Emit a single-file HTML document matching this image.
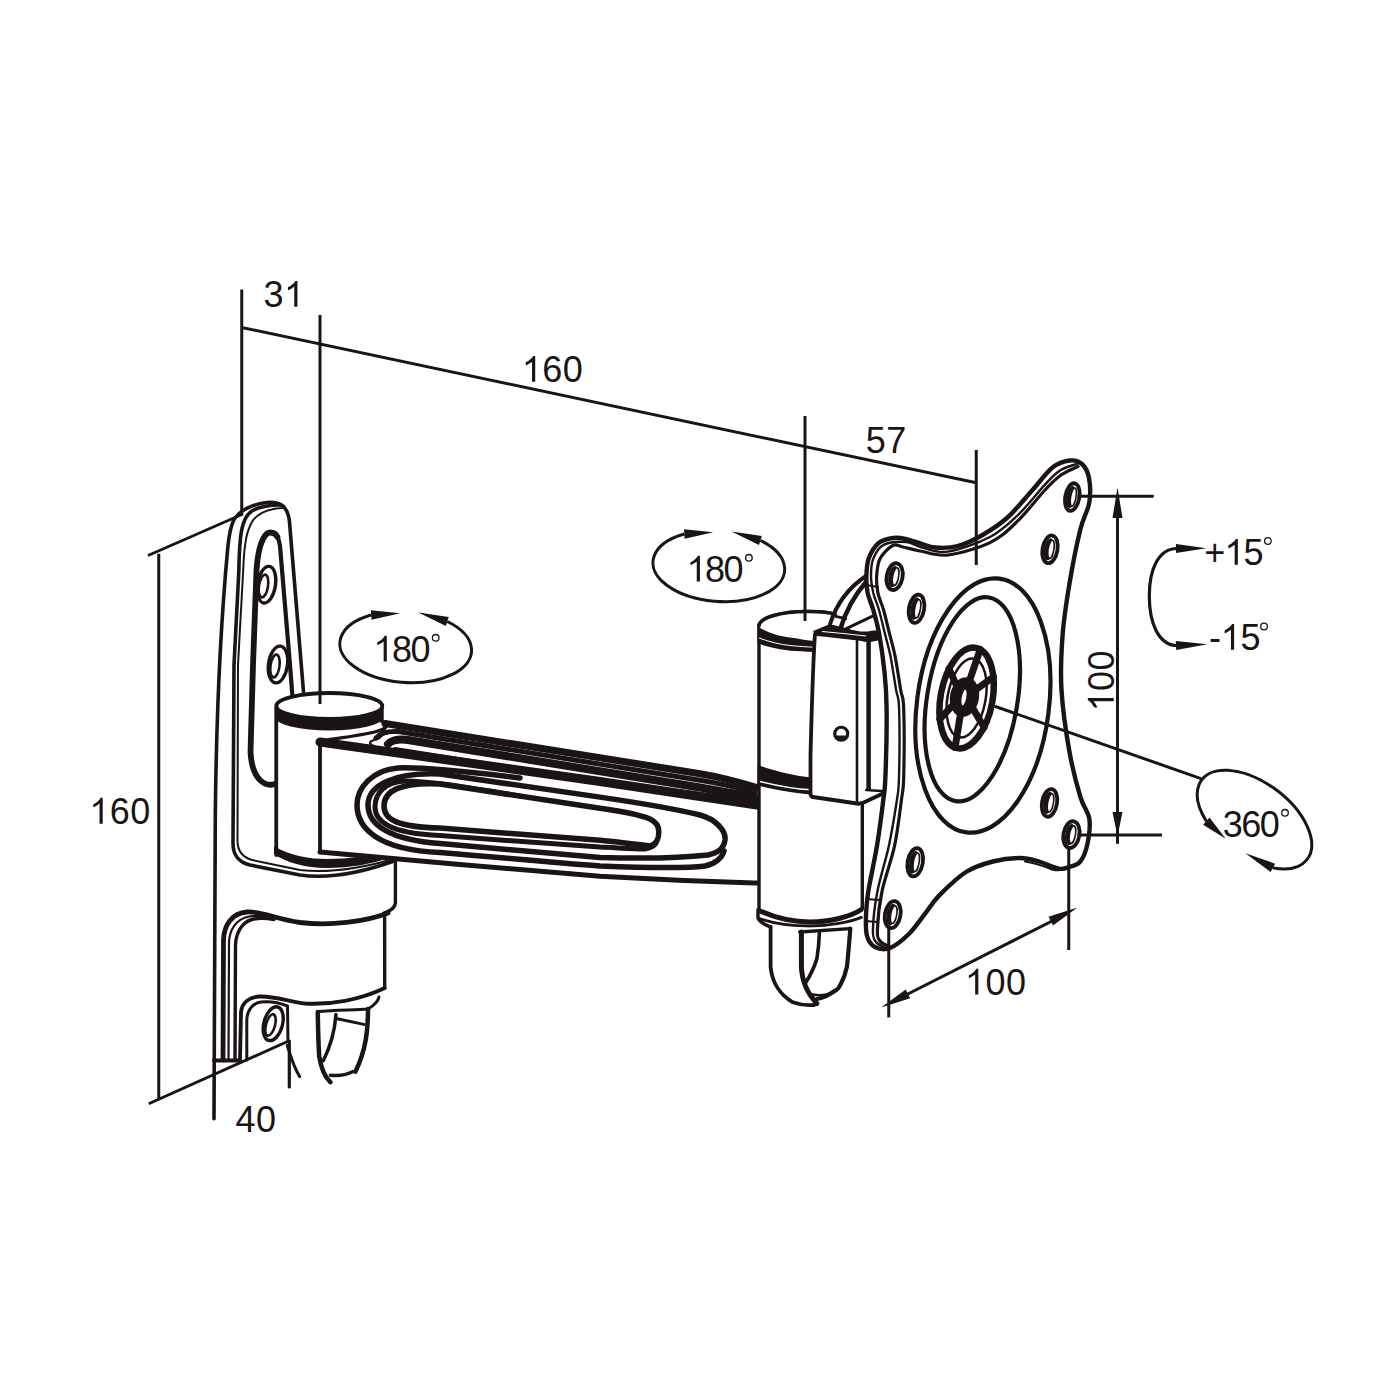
<!DOCTYPE html>
<html><head><meta charset="utf-8"><style>html,body{margin:0;padding:0;background:#fff}svg{display:block}</style></head>
<body><svg width="1400" height="1400" viewBox="0 0 1400 1400" style="font-family:'Liberation Sans',sans-serif">
<rect width="1400" height="1400" fill="#fff"/>
<path d="M214 1118.75 L215.3 815 C216.5 700 222 610 227.7 548.6 C229 535 231 524 235 518 C240 511 252 504 266.8 502.5 C274 502 279 503 283 506 C287 510 289 516 289.5 522 L303.75 695" stroke="#1a1414" stroke-width="3.6" fill="none" stroke-linecap="round" stroke-linejoin="round" />
<path d="M281 505 C272 504.5 258 507 251.8 511.1 C246 515 242 524 240.5 537.9 C239.5 548 239 560 238.9 570 L234 665 L233 843 C233 855 238 862 250 865 L300 875 C325 878.5 355 875 394 861" stroke="#1a1414" stroke-width="3.6" fill="none" stroke-linecap="round" stroke-linejoin="round" />
<path d="M283 508 C275 508 268 510 262.5 512.7 C256 516 252 521 250.7 524.5 C247 532 246 538 245.4 543.2 C244 552 243.5 562 243.2 570 L238 665 L237.5 841 C237.5 851 242 857 252 860 L300 870 C325 873 355 870 394 859" stroke="#1a1414" stroke-width="2" fill="none" stroke-linecap="round" stroke-linejoin="round" />
<path d="M275 784 C266 787 252 781 250.5 752 L253 665 L256.5 570 C257.5 555 260 545 263 539 C265 535 268 532.5 270.5 532.5 C274 532.5 276 534 277.5 537" stroke="#1a1414" stroke-width="5.8" fill="none" stroke-linecap="round" stroke-linejoin="round" />
<path d="M270 532 C276 532 279 539 280 546 L290 665 L292.5 697" stroke="#1a1414" stroke-width="4.2" fill="none" stroke-linecap="round" stroke-linejoin="round" />
<ellipse cx="266.5" cy="584.7" rx="9" ry="18.5" transform="rotate(9 266.5 584.7)" stroke="#1a1414" stroke-width="3.4" fill="none"/>
<ellipse cx="263.5" cy="586" rx="4.5" ry="11.5" transform="rotate(9 263.5 586)" stroke="#1a1414" stroke-width="2.6" fill="none"/>
<ellipse cx="278" cy="664.5" rx="9.5" ry="18.5" transform="rotate(8 278 664.5)" stroke="#1a1414" stroke-width="3.4" fill="none"/>
<ellipse cx="275" cy="666" rx="4.5" ry="11.5" transform="rotate(8 275 666)" stroke="#1a1414" stroke-width="2.6" fill="none"/>
<path d="M223 1060 L223.5 940 C224 925 232 913 247 912 C262 911 275 919 300 922.5 C330 926 365 922 388 913" stroke="#1a1414" stroke-width="4.8" fill="none" stroke-linecap="round" stroke-linejoin="round" />
<path d="M228.5 1060 L229 942 C229.5 930 236 919 249 916.5 C255 915.5 262 915.5 270 917" stroke="#1a1414" stroke-width="2.2" fill="none" stroke-linecap="round" stroke-linejoin="round" />
<path d="M235 1060 L235.5 945 C236 933 242 922 252 919.5 C258 918 265 918 274 919.5" stroke="#1a1414" stroke-width="3.4" fill="none" stroke-linecap="round" stroke-linejoin="round" />
<path d="M214 1060.6 L240 1060.6" stroke="#1a1414" stroke-width="4" fill="none" stroke-linecap="round" stroke-linejoin="round" />
<path d="M240 1060 L241 1012 C242 1002 250 997 260 996.5 C275 996 290 1002 305 1003.5 C330 1005 360 1000 384.7 988" stroke="#1a1414" stroke-width="3.8" fill="none" stroke-linecap="round" stroke-linejoin="round" />
<path d="M246.8 1060 L246.8 1020 C247 1010 253 1003 261 1002 C270 1001 280 1003 287.5 1006 L288 1041" stroke="#1a1414" stroke-width="3" fill="none" stroke-linecap="round" stroke-linejoin="round" />
<ellipse cx="273.2" cy="1023.7" rx="9.3" ry="17.3" transform="rotate(15 273.2 1023.7)" stroke="#1a1414" stroke-width="3.4" fill="none"/>
<ellipse cx="270.5" cy="1025" rx="4.5" ry="11" transform="rotate(15 270.5 1025)" stroke="#1a1414" stroke-width="2.6" fill="none"/>
<path d="M289.3 1041 V1087" stroke="#1a1414" stroke-width="3.2" fill="none" stroke-linecap="round" stroke-linejoin="round" />
<path d="M287.2 1045.3 C291 1058 294 1068 299.7 1076.6" stroke="#1a1414" stroke-width="3" fill="none" stroke-linecap="round" stroke-linejoin="round" />
<path d="M317.8 1012 C318 1030 318.5 1045 319.2 1056.4 C321 1068 325 1077 330.4 1082.2" stroke="#1a1414" stroke-width="4.5" fill="none" stroke-linecap="round" stroke-linejoin="round" />
<path d="M368 1009 C368 1030 366 1050 355.4 1071.7" stroke="#1a1414" stroke-width="4.5" fill="none" stroke-linecap="round" stroke-linejoin="round" />
<path d="M330.4 1075.2 C338 1076 346 1075 352.6 1071.7" stroke="#1a1414" stroke-width="3.5" fill="none" stroke-linecap="round" stroke-linejoin="round" />
<path d="M335.9 1014.6 C335 1030 331 1045 323.4 1060.6" stroke="#1a1414" stroke-width="3.5" fill="none" stroke-linecap="round" stroke-linejoin="round" />
<path d="M337.3 1018.8 L363.8 1024.4" stroke="#1a1414" stroke-width="3" fill="none" stroke-linecap="round" stroke-linejoin="round" />
<path d="M317.8 1011.5 C335 1010 355 1010 368 1009 C373 1006 378 1002 379 997" stroke="#1a1414" stroke-width="3" fill="none" stroke-linecap="round" stroke-linejoin="round" />
<path d="M384.6 914 L384.7 988" stroke="#1a1414" stroke-width="3.4" fill="none" stroke-linecap="round" stroke-linejoin="round" />
<path d="M395.4 860 L395.4 903 C395 908 390 911 384 913" stroke="#1a1414" stroke-width="3.4" fill="none" stroke-linecap="round" stroke-linejoin="round" />
<rect x="276.25" y="706" width="106" height="146" fill="#fff"/>
<path d="M276.25 708 V855" stroke="#1a1414" stroke-width="3.8" fill="none" stroke-linecap="round" stroke-linejoin="round" />
<path d="M382 708 V724" stroke="#1a1414" stroke-width="3.4" fill="none" stroke-linecap="round" stroke-linejoin="round" />
<ellipse cx="329.3" cy="706" rx="53" ry="13" transform="rotate(0 329.3 706)" stroke="#1a1414" stroke-width="3.8" fill="#fff"/>
<path d="M276.25 706.5 A53 13 0 0 0 382.5 706.5 L382.5 718 A53 12.5 0 0 1 276.25 718 Z" fill="#1a1414"/>
<path d="M274 846 C290 856 310 859 327 859 C350 859 370 856 384 852 L392 857 C372 864 350 868 327 868 C305 868 285 862 274 854 Z" fill="#1a1414"/>
<path d="M320 741.5 L757.5 804 L757.5 883 L600 876.3 L320 852 Z" fill="#fff"/>
<path d="M320 742 L385 721.5 L757.5 786 L757.5 805 Z" fill="#fff"/>
<path d="M320 743 V851" stroke="#1a1414" stroke-width="3.8" fill="none" stroke-linecap="round" stroke-linejoin="round" />
<path d="M320 852 C400 859 520 870 600 876.3 C680 881 720 882 757.5 883" stroke="#1a1414" stroke-width="5" fill="none" stroke-linecap="round" stroke-linejoin="round" />
<path d="M321 741 C345 737 365 735 378 731 C385 729 389 726 386 722" stroke="#1a1414" stroke-width="3.2" fill="none" stroke-linecap="round" stroke-linejoin="round" />
<path d="M383.6 724.6 C386 728 384 735 379 738.3 C374 740 370 741 370 742.5 C370 744 372 745.5 374.4 746.3" stroke="#1a1414" stroke-width="2.4" fill="none" stroke-linecap="round" stroke-linejoin="round" />
<path d="M385 723.5 L700.0 773.7 C720 777 740 782.5 757 787.5" stroke="#1a1414" stroke-width="7" fill="none" stroke-linecap="round" stroke-linejoin="round" />
<path d="M376 738 C380 733 388 731 398 731.5 L700.0 780.3 C720 783.5 740 788 755 792.5" stroke="#1a1414" stroke-width="5" fill="none" stroke-linecap="round" stroke-linejoin="round" />
<path d="M388 744 C392 740 400 739 408 740 L700.0 787.5 C720 791 740 794.5 755 797.5" stroke="#1a1414" stroke-width="8" fill="none" stroke-linecap="round" stroke-linejoin="round" />
<path d="M395 749 L600.0 781.3 L755 801" stroke="#1a1414" stroke-width="4" fill="none" stroke-linecap="round" stroke-linejoin="round" />
<path d="M320 742 L600 781.5 C680 793 720 799 757 805" stroke="#1a1414" stroke-width="9" fill="none" stroke-linecap="round" stroke-linejoin="round" />
<path d="M520 778 C470 772 420 767 398 768 C372 770 357 788 357 805 C357 828 378 850 440 852.4 C520 859.2 570 864 600 866 C650 868 690 868 705 866 C715 864 722 858 724 851" stroke="#1a1414" stroke-width="5.5" fill="none" stroke-linecap="round" stroke-linejoin="round" />
<path d="M600 797.1 C640 803 680 810 700 815 C715 819 726 830 725 840 C724 848 718 853 708 855 C690 857 650 859 600 857.4 C570 855 520 850.5 440 843.6 C390 840 368 825 368 805 C368 785 395 772 440 774 L600 797.1 Z" stroke="#1a1414" stroke-width="5.5" fill="none" stroke-linecap="round" stroke-linejoin="round" />
<path d="M520 796 C470 788 430 781 405 781 C385 782 375 793 375 807 C375 822 390 833 440 835.6 C520 841.5 570 845 600 847.1 C620 848 635 849 645 849 C652 848 656 845 657 841" stroke="#1a1414" stroke-width="5" fill="none" stroke-linecap="round" stroke-linejoin="round" />
<path d="M600 808.3 C620 811 640 815 650 819 C656 822 659 827 658.75 832 C659 838 656 844 650 846 C640 845 620 842 600 840.3 C570 838 520 834 440 828.1 C398 827 384 820 384 806 C384 791 400 782 440 784 L600 808.3 Z" stroke="#1a1414" stroke-width="5.5" fill="none" stroke-linecap="round" stroke-linejoin="round" />
<rect x="758.75" y="626" width="105" height="300" fill="#fff"/>
<path d="M759 626 V910" stroke="#1a1414" stroke-width="3.4" fill="none" stroke-linecap="round" stroke-linejoin="round" />
<path d="M862.3 803 V909" stroke="#1a1414" stroke-width="3.4" fill="none" stroke-linecap="round" stroke-linejoin="round" />
<path d="M759 626 C759 618 780 611.5 808 611.5 C822 611.5 830 612.5 835 614.5" stroke="#1a1414" stroke-width="3.6" fill="#fff"/>
<path d="M759 626 C759 618 780 611.5 808 611.5 C840 611.5 857 618 857 626 C857 634 840 640 808 640 C780 640 759 634 759 626 Z" fill="#fff"/>
<path d="M759 626 C759 618 780 611.5 808 611.5 C822 611.5 830 612.5 835 614.5" stroke="#1a1414" stroke-width="3.6" fill="none" stroke-linecap="round" stroke-linejoin="round" />
<path d="M757.5 626 C765 632 778 636 790 637.5 C800 639 808 640.5 815 641 L815 652 C805 651.5 797 651 790 650.7 C775 649 765 646.5 757.5 643 Z" fill="#1a1414"/>
<path d="M759 638 C770 642 780 644.5 790 645.5 C800 646.5 808 647 815 647.2" stroke="#fff" stroke-width="1" fill="none"/>
<path d="M757.5 765 C775 771 795 776 811 777.4 L811 794.5 C795 793.5 775 790 757.5 785.5 Z" fill="#1a1414"/>
<path d="M760 781.5 C778 786 795 789 811 789.8" stroke="#fff" stroke-width="1.4" fill="none"/>
<path d="M758 910 C775 918 795 922 810 922 C830 922 850 917 862.3 909" stroke="#1a1414" stroke-width="5" fill="none"/>
<path d="M758.6 918.3 C775 924 795 926 810 926 C830 926 850 922 861.4 917.4" stroke="#1a1414" stroke-width="2.8" fill="none" stroke-linecap="round" stroke-linejoin="round" />
<path d="M758 909.7 L758 918.3 C760 922 765 925 770.6 926.9" stroke="#1a1414" stroke-width="3.4" fill="none" stroke-linecap="round" stroke-linejoin="round" />
<path d="M770.6 927 L770.6 967 C772 985 785 1000 814 1005 C830 1000 845 980 847 967 L850.3 928.6 Z" fill="#fff"/>
<path d="M770.6 927 V967 C772 982 780 995 792.9 1002.3 C800 1005 808 1005.5 814.3 1005" stroke="#1a1414" stroke-width="3.8" fill="none" stroke-linecap="round" stroke-linejoin="round" />
<path d="M850.3 928.6 C849 945 848 958 846.9 967 C844 980 838 990 835.7 990.3 C828 996 822 998 816.9 999" stroke="#1a1414" stroke-width="4.2" fill="none" stroke-linecap="round" stroke-linejoin="round" />
<path d="M801.4 932 V967 C802 980 806 992 816.9 1003.5" stroke="#1a1414" stroke-width="5" fill="none" stroke-linecap="round" stroke-linejoin="round" />
<path d="M799.7 932 L850.3 928.6" stroke="#1a1414" stroke-width="3.4" fill="none" stroke-linecap="round" stroke-linejoin="round" />
<path d="M819.4 932.9 C819 945 818 952 816.9 958.6 C814 968 810 976 805.7 982.6" stroke="#1a1414" stroke-width="3.6" fill="none" stroke-linecap="round" stroke-linejoin="round" />
<path d="M810 994 C818 996 828 995 836 991" stroke="#1a1414" stroke-width="2.4" fill="none" stroke-linecap="round" stroke-linejoin="round" />
<path d="M815 632 L870 638 L885 792 L858 804 L811 795 Z" fill="#fff"/>
<path d="M815 634 C813 660 812 700 810.5 755 L810.5 794.6 C811 796 812 797 813 797 L858.75 803.75 L863.75 802.5 L885 792.5" stroke="#1a1414" stroke-width="3.8" fill="none" stroke-linecap="round" stroke-linejoin="round" />
<path d="M813 631 C820 628 826 626 830 624.3 L846 628 C855 631 862 632 868 631.5 C874 630 878 630 880 632 L880 640 C872 642 866 643 861.4 641 C845 639 830 637 817 636 Z" fill="#1a1414"/>
<path d="M822 631.5 C835 632.5 850 634 866 636" stroke="#fff" stroke-width="1.2" fill="none"/>
<path d="M857 641 V802.5" stroke="#1a1414" stroke-width="2.6" fill="none" stroke-linecap="round" stroke-linejoin="round" />
<path d="M868.6 641 V788.75" stroke="#1a1414" stroke-width="4.5" fill="none" stroke-linecap="round" stroke-linejoin="round" />
<path d="M866.25 790 L885 791.25" stroke="#1a1414" stroke-width="2.6" fill="none" stroke-linecap="round" stroke-linejoin="round" />
<ellipse cx="841.25" cy="733.75" rx="6.5" ry="6.5" transform="rotate(0 841.25 733.75)" stroke="#1a1414" stroke-width="3.2" fill="none"/>
<path d="M836 735.5 C838 741 844 741 846.5 735.5 Z" fill="#1a1414"/>
<path d="M830 624.3 C836 605 848 588 866 576" stroke="#1a1414" stroke-width="4" fill="none" stroke-linecap="round" stroke-linejoin="round" />
<path d="M840 630 C845 613 853 597 866 582" stroke="#1a1414" stroke-width="4.5" fill="none" stroke-linecap="round" stroke-linejoin="round" />
<path d="M835.7 616.4 L845.7 618.6" stroke="#1a1414" stroke-width="3" fill="none" stroke-linecap="round" stroke-linejoin="round" />
<path d="M846.4 628.6 L872 616.4" stroke="#1a1414" stroke-width="3" fill="none" stroke-linecap="round" stroke-linejoin="round" />
<path d="M1069.6 460.5 C1074.5 459.9 1078.8 461.1 1082.0 464.0 C1085.2 466.9 1087.8 471.6 1089.0 478.0 C1090.2 484.4 1090.7 493.9 1089.3 502.5 C1087.9 511.1 1083.7 515.9 1080.4 529.3 C1077.1 542.7 1072.6 565.0 1069.6 582.9 C1066.6 600.8 1063.8 618.5 1062.5 636.4 C1061.2 654.2 1060.3 670.6 1061.5 690.0 C1062.7 709.4 1066.4 734.7 1069.6 752.5 C1072.8 770.3 1077.1 786.0 1080.4 797.0 C1083.7 808.0 1088.1 810.8 1089.3 818.6 C1090.5 826.4 1089.0 836.5 1087.5 843.6 C1086.0 850.7 1083.4 857.5 1080.4 861.4 C1077.4 865.3 1073.2 865.6 1069.6 866.8 C1066.0 868.0 1064.2 869.6 1058.9 868.6 C1053.6 867.6 1044.0 862.8 1037.5 861.0 C1031.0 859.2 1027.0 857.9 1019.6 858.0 C1012.2 858.1 1001.8 859.2 992.9 861.5 C984.0 863.8 974.9 866.4 966.0 872.0 C957.1 877.6 946.0 888.6 939.3 895.4 C932.6 902.2 930.8 906.4 925.7 912.9 C920.6 919.4 914.6 928.4 908.6 934.3 C902.6 940.1 895.6 945.9 890.0 948.0 C884.4 950.1 878.8 949.0 875.0 947.0 C871.2 945.0 868.5 941.3 867.0 936.0 C865.5 930.7 865.8 922.4 866.0 915.0 C866.2 907.6 866.5 902.9 868.3 891.4 C870.1 879.9 874.5 860.9 877.0 845.7 C879.5 830.5 881.9 811.5 883.3 800.0 C884.7 788.5 884.8 792.2 885.4 777.0 C886.0 761.8 886.8 726.1 886.6 708.6 C886.5 691.1 885.8 684.6 884.5 672.0 C883.2 659.4 880.9 643.2 879.0 632.9 C877.1 622.6 875.2 616.7 873.3 610.0 C871.4 603.3 868.8 598.6 867.6 592.9 C866.5 587.2 866.2 581.4 866.4 575.7 C866.6 570.0 866.8 563.9 868.7 558.6 C870.6 553.3 874.5 547.0 877.9 543.7 C881.3 540.4 885.5 539.6 889.3 538.6 C893.1 537.6 895.9 537.3 900.7 538.0 C905.5 538.7 912.2 541.0 917.9 542.6 C923.6 544.2 928.4 546.9 935.0 547.5 C941.6 548.1 949.6 548.3 957.5 546.2 C965.4 544.2 974.2 539.8 982.5 535.0 C990.8 530.2 999.2 525.0 1007.5 517.5 C1015.8 510.0 1025.0 498.3 1032.5 490.0 C1040.0 481.7 1046.3 472.4 1052.5 467.5 C1058.7 462.6 1064.7 461.1 1069.6 460.5 Z" stroke="#1a1414" stroke-width="4.4" fill="#fff" stroke-linecap="round" stroke-linejoin="round" />
<path d="M1078.0 463.5 C1075.0 464.7 1065.5 467.0 1060.0 470.5 C1054.5 474.0 1052.2 477.0 1045.0 484.6 C1037.8 492.2 1026.2 507.3 1017.0 516.0 C1007.8 524.7 1001.5 531.1 990.0 537.0 C978.5 542.9 959.3 549.9 948.0 551.6 C936.7 553.4 928.9 549.1 922.0 547.5 C915.1 545.9 912.8 542.4 906.4 542.0 C900.0 541.6 889.1 542.1 883.6 544.9 C878.1 547.7 875.4 553.5 873.3 558.6 C871.2 563.7 871.0 570.0 871.0 575.7 C871.0 581.4 872.0 587.2 873.3 592.9 C874.6 598.6 877.1 603.3 879.0 610.0 C880.9 616.7 882.8 625.3 884.7 632.9 C886.6 640.5 888.5 646.2 890.4 655.7 C892.3 665.2 894.6 681.2 896.1 690.0 C897.6 698.8 898.6 694.1 899.1 708.6 C899.6 723.1 899.4 761.8 899.0 777.0 C898.6 792.2 898.6 788.5 896.9 800.0 C895.2 811.5 892.1 830.5 888.9 845.7 C885.6 860.9 880.1 877.4 877.4 891.4 C874.7 905.4 873.1 921.6 872.9 930.0 C872.7 938.4 874.1 939.2 876.0 942.0 C877.9 944.8 882.7 946.2 884.0 947.0" stroke="#1a1414" stroke-width="2.4" fill="none" stroke-linecap="round" stroke-linejoin="round" />
<path d="M1078.0 466.5 C1075.2 467.9 1066.5 471.1 1061.0 475.0 C1055.5 478.9 1052.3 482.2 1045.0 490.0 C1037.7 497.8 1026.2 512.9 1017.0 521.7 C1007.8 530.5 1001.5 537.1 990.0 542.6 C978.5 548.1 959.7 553.6 948.0 555.0 C936.3 556.4 927.5 552.3 920.0 551.0 C912.5 549.7 907.5 547.9 903.0 547.0 C898.5 546.1 896.5 543.6 892.7 545.5 C888.9 547.4 882.8 553.6 880.1 558.6 C877.4 563.6 877.1 570.0 876.7 575.7 C876.3 581.4 876.8 587.2 877.9 592.9 C879.0 598.6 881.7 603.3 883.6 610.0 C885.5 616.7 887.4 625.3 889.3 632.9 C891.2 640.5 893.1 646.2 895.0 655.7 C896.9 665.2 899.2 681.2 900.7 690.0 C902.2 698.8 903.2 694.1 903.7 708.6 C904.2 723.1 904.1 761.8 903.7 777.0 C903.3 792.2 902.9 788.5 901.4 800.0 C899.9 811.5 897.8 830.5 894.6 845.7 C891.4 860.9 884.9 877.4 882.0 891.4 C879.1 905.4 877.7 921.7 877.4 930.0 C877.1 938.3 878.2 938.3 880.0 941.0 C881.8 943.7 886.7 945.2 888.0 946.0" stroke="#1a1414" stroke-width="3.2" fill="none" stroke-linecap="round" stroke-linejoin="round" />
<path d="M866 585 L878 587" stroke="#1a1414" stroke-width="2.2" fill="none" stroke-linecap="round" stroke-linejoin="round" />
<path d="M866 899 L880 900" stroke="#1a1414" stroke-width="2.2" fill="none" stroke-linecap="round" stroke-linejoin="round" />
<path d="M865 921 L877 922" stroke="#1a1414" stroke-width="2.2" fill="none" stroke-linecap="round" stroke-linejoin="round" />
<ellipse cx="982.9" cy="705.5" rx="66" ry="128" transform="rotate(7.4 982.9 705.5)" stroke="#1a1414" stroke-width="4.2" fill="none"/>
<ellipse cx="972.3" cy="699.3" rx="45.2" ry="103.2" transform="rotate(9.3 972.3 699.3)" stroke="#1a1414" stroke-width="4.2" fill="none"/>
<ellipse cx="966.6" cy="698" rx="26" ry="51" transform="rotate(10.5 966.6 698)" stroke="#1a1414" stroke-width="6.5" fill="#fff"/>
<path d="M969.1 681.8 L980.2 649.4" stroke="#1a1414" stroke-width="7" fill="none" stroke-linecap="round" stroke-linejoin="round" />
<path d="M974.5 690.7 L993.4 677.0" stroke="#1a1414" stroke-width="7" fill="none" stroke-linecap="round" stroke-linejoin="round" />
<path d="M971.6 706.4 L984.1 727.2" stroke="#1a1414" stroke-width="7" fill="none" stroke-linecap="round" stroke-linejoin="round" />
<path d="M960.7 712.5 L955.1 747.5" stroke="#1a1414" stroke-width="7" fill="none" stroke-linecap="round" stroke-linejoin="round" />
<path d="M954.5 703.3 L939.8 719.0" stroke="#1a1414" stroke-width="7" fill="none" stroke-linecap="round" stroke-linejoin="round" />
<path d="M957.4 687.6 L949.1 668.8" stroke="#1a1414" stroke-width="7" fill="none" stroke-linecap="round" stroke-linejoin="round" />
<ellipse cx="964.5" cy="697" rx="14.5" ry="20" transform="rotate(10.5 964.5 697)" fill="#1a1414"/>
<ellipse cx="964" cy="697.5" rx="2.2" ry="8" transform="rotate(10.5 964 697.5)" fill="#fff"/>
<ellipse cx="966.6" cy="698" rx="19" ry="40" transform="rotate(10.5 966.6 698)" stroke="#1a1414" stroke-width="2.5" fill="none"/>
<ellipse cx="1072.3" cy="497.1" rx="7" ry="14" transform="rotate(10 1072.3 497.1)" stroke="#1a1414" stroke-width="3.8" fill="#fff"/>
<ellipse cx="1071.1" cy="497.1" rx="4.3" ry="11.2" transform="rotate(10 1071.1 497.1)" stroke="#1a1414" stroke-width="0" fill="#1a1414"/>
<ellipse cx="1073.3" cy="497.1" rx="2.7" ry="9.2" transform="rotate(10 1073.3 497.1)" stroke="#1a1414" stroke-width="1.6" fill="#fff"/>
<ellipse cx="1050" cy="549.3" rx="7.5" ry="14" transform="rotate(10 1050 549.3)" stroke="#1a1414" stroke-width="3.8" fill="#fff"/>
<ellipse cx="1048.8" cy="549.3" rx="4.7" ry="11.2" transform="rotate(10 1048.8 549.3)" stroke="#1a1414" stroke-width="0" fill="#1a1414"/>
<ellipse cx="1051.0" cy="549.3" rx="2.9" ry="9.2" transform="rotate(10 1051.0 549.3)" stroke="#1a1414" stroke-width="1.6" fill="#fff"/>
<ellipse cx="894.6" cy="576.6" rx="8" ry="13.5" transform="rotate(10 894.6 576.6)" stroke="#1a1414" stroke-width="3.8" fill="#fff"/>
<ellipse cx="893.4" cy="576.6" rx="5.0" ry="10.8" transform="rotate(10 893.4 576.6)" stroke="#1a1414" stroke-width="0" fill="#1a1414"/>
<ellipse cx="895.6" cy="576.6" rx="3.0" ry="8.9" transform="rotate(10 895.6 576.6)" stroke="#1a1414" stroke-width="1.6" fill="#fff"/>
<ellipse cx="916.5" cy="608.75" rx="7.6" ry="14.3" transform="rotate(10 916.5 608.75)" stroke="#1a1414" stroke-width="3.8" fill="#fff"/>
<ellipse cx="915.3" cy="608.75" rx="4.7" ry="11.4" transform="rotate(10 915.3 608.75)" stroke="#1a1414" stroke-width="0" fill="#1a1414"/>
<ellipse cx="917.5" cy="608.75" rx="2.9" ry="9.4" transform="rotate(10 917.5 608.75)" stroke="#1a1414" stroke-width="1.6" fill="#fff"/>
<ellipse cx="1049.5" cy="802.9" rx="7.5" ry="14" transform="rotate(10 1049.5 802.9)" stroke="#1a1414" stroke-width="3.8" fill="#fff"/>
<ellipse cx="1048.3" cy="802.9" rx="4.7" ry="11.2" transform="rotate(10 1048.3 802.9)" stroke="#1a1414" stroke-width="0" fill="#1a1414"/>
<ellipse cx="1050.5" cy="802.9" rx="2.9" ry="9.2" transform="rotate(10 1050.5 802.9)" stroke="#1a1414" stroke-width="1.6" fill="#fff"/>
<ellipse cx="1071.4" cy="834.6" rx="8" ry="13.5" transform="rotate(10 1071.4 834.6)" stroke="#1a1414" stroke-width="3.8" fill="#fff"/>
<ellipse cx="1070.2" cy="834.6" rx="5.0" ry="10.8" transform="rotate(10 1070.2 834.6)" stroke="#1a1414" stroke-width="0" fill="#1a1414"/>
<ellipse cx="1072.4" cy="834.6" rx="3.0" ry="8.9" transform="rotate(10 1072.4 834.6)" stroke="#1a1414" stroke-width="1.6" fill="#fff"/>
<ellipse cx="915.2" cy="862.3" rx="7.6" ry="14.3" transform="rotate(10 915.2 862.3)" stroke="#1a1414" stroke-width="3.8" fill="#fff"/>
<ellipse cx="914.0" cy="862.3" rx="4.7" ry="11.4" transform="rotate(10 914.0 862.3)" stroke="#1a1414" stroke-width="0" fill="#1a1414"/>
<ellipse cx="916.2" cy="862.3" rx="2.9" ry="9.4" transform="rotate(10 916.2 862.3)" stroke="#1a1414" stroke-width="1.6" fill="#fff"/>
<ellipse cx="892.7" cy="914.6" rx="7.8" ry="13.7" transform="rotate(10 892.7 914.6)" stroke="#1a1414" stroke-width="3.8" fill="#fff"/>
<ellipse cx="891.5" cy="914.6" rx="4.8" ry="11.0" transform="rotate(10 891.5 914.6)" stroke="#1a1414" stroke-width="0" fill="#1a1414"/>
<ellipse cx="893.7" cy="914.6" rx="3.0" ry="9.0" transform="rotate(10 893.7 914.6)" stroke="#1a1414" stroke-width="1.6" fill="#fff"/>
<path d="M1025 861.5 C1035 863 1045 866.5 1052 869.5 C1058 871 1064 870.5 1069 867.5" stroke="#1a1414" stroke-width="2" fill="none" stroke-linecap="round" stroke-linejoin="round" />
<path d="M241.75 289.5 V514 M320 315 V704 M241.75 327.5 L976.25 482.8 M805 416 V621 M976.25 450 V565 M148 555.5 L243 514 M158.75 553.75 V1099 M148.75 1103.75 L287.5 1041.5 M1117.5 500 V843.75 M1077.5 496.25 H1153.75 M1077.5 835 H1162 M1068.75 847.5 V950 M888.75 925 V1017.5 M895 1000.5 L1066 914 M991 705 L1201 778.6" stroke="#1a1414" stroke-width="3" fill="none"/>
<path d="M1117.5 487.5 L1122.5 518.0 L1112.5 518.0 Z" fill="#1a1414"/>
<path d="M1117.5 836.5 L1112.5 812.0 L1122.5 812.0 Z" fill="#1a1414"/>
<path d="M881.2 1007.5 L905.7 989.4 L910.2 998.3 Z" fill="#1a1414"/>
<path d="M1077.5 907.5 L1053.0 925.6 L1048.5 916.7 Z" fill="#1a1414"/>
<path d="M371.2 615.0 A66.0 35.5 4.0 1 0 447.3 621.5" stroke="#1a1414" stroke-width="3" fill="none"/><path d="M400.2 613.3 L371.5 619.7 L370.9 610.3 Z" fill="#1a1414"/><path d="M418.4 612.4 L448.7 617.0 L445.9 626.0 Z" fill="#1a1414"/>
<path d="M684.3 534.0 A66.0 35.5 4.0 1 0 760.4 540.5" stroke="#1a1414" stroke-width="3" fill="none"/><path d="M713.3 532.3 L684.6 538.7 L684.0 529.3 Z" fill="#1a1414"/><path d="M731.5 531.4 L761.8 536.0 L759.0 545.0 Z" fill="#1a1414"/>
<path d="M1177.3 548.5 C1158 548.5 1149.3 570 1149.3 596 C1149.3 622 1158 645.5 1177.3 645.5" stroke="#1a1414" stroke-width="3.2" fill="none"/>
<path d="M1206.5 548.3 L1176.0 553.0 L1176.0 544.0 Z" fill="#1a1414"/>
<path d="M1207.5 644.3 L1176.2 650.0 L1175.8 641.0 Z" fill="#1a1414"/>
<path d="M1206.3 821.2 A66.0 36.8 37.0 1 1 1272.8 867.9" stroke="#1a1414" stroke-width="3" fill="none"/>
<path d="M1225.7 838.7 L1203.1 824.7 L1209.5 817.6 Z" fill="#1a1414"/>
<path d="M1245.4 853.2 L1275.1 863.7 L1270.6 872.1 Z" fill="#1a1414"/>
<g fill="#1a1414"><g transform="translate(263.50 306.75)"><text x="0.00" y="0" font-size="36" letter-spacing="0.5">3</text><path transform="translate(20.52 0) scale(0.017578 -0.017578)" d="M763 0 H583 V1147 C540 1106 483 1065 413 1024 C343 983 280 952 225 932 V1106 C325 1153 412 1210 487 1277 C562 1344 615 1409 646 1472 H763 Z"/></g><g transform="translate(521.80 381.80)"><path transform="translate(0.00 0) scale(0.017578 -0.017578)" d="M763 0 H583 V1147 C540 1106 483 1065 413 1024 C343 983 280 952 225 932 V1106 C325 1153 412 1210 487 1277 C562 1344 615 1409 646 1472 H763 Z"/><text x="20.52" y="0" font-size="36" letter-spacing="0.5">60</text></g><g transform="translate(865.75 453.00)"><text x="0.00" y="0" font-size="36" letter-spacing="0.5">57</text></g><g transform="translate(89.30 823.70)"><path transform="translate(0.00 0) scale(0.017578 -0.017578)" d="M763 0 H583 V1147 C540 1106 483 1065 413 1024 C343 983 280 952 225 932 V1106 C325 1153 412 1210 487 1277 C562 1344 615 1409 646 1472 H763 Z"/><text x="20.52" y="0" font-size="36" letter-spacing="0.5">60</text></g><g transform="translate(235.50 1132.00)"><text x="0.00" y="0" font-size="36" letter-spacing="0.5">40</text></g><g transform="translate(964.90 994.60)"><path transform="translate(0.00 0) scale(0.017578 -0.017578)" d="M763 0 H583 V1147 C540 1106 483 1065 413 1024 C343 983 280 952 225 932 V1106 C325 1153 412 1210 487 1277 C562 1344 615 1409 646 1472 H763 Z"/><text x="20.52" y="0" font-size="36" letter-spacing="0.5">00</text></g><g transform="translate(1113.70 711.50) rotate(-90)"><path transform="translate(0.00 0) scale(0.017578 -0.017578)" d="M763 0 H583 V1147 C540 1106 483 1065 413 1024 C343 983 280 952 225 932 V1106 C325 1153 412 1210 487 1277 C562 1344 615 1409 646 1472 H763 Z"/><text x="20.52" y="0" font-size="36" letter-spacing="0.5">00</text></g><g transform="translate(373.40 661.60)"><path transform="translate(0.00 0) scale(0.017578 -0.017578)" d="M763 0 H583 V1147 C540 1106 483 1065 413 1024 C343 983 280 952 225 932 V1106 C325 1153 412 1210 487 1277 C562 1344 615 1409 646 1472 H763 Z"/><text x="18.52" y="0" font-size="36" letter-spacing="-1.5">80</text></g><g transform="translate(686.50 581.60)"><path transform="translate(0.00 0) scale(0.017578 -0.017578)" d="M763 0 H583 V1147 C540 1106 483 1065 413 1024 C343 983 280 952 225 932 V1106 C325 1153 412 1210 487 1277 C562 1344 615 1409 646 1472 H763 Z"/><text x="18.52" y="0" font-size="36" letter-spacing="-1.5">80</text></g><g transform="translate(1222.70 837.10)"><text x="0.00" y="0" font-size="36" letter-spacing="-1.5">360</text></g><g transform="translate(1204.30 564.80)"><text x="0.00" y="0" font-size="36" letter-spacing="-0.9">+</text><path transform="translate(20.12 0) scale(0.017578 -0.017578)" d="M763 0 H583 V1147 C540 1106 483 1065 413 1024 C343 983 280 952 225 932 V1106 C325 1153 412 1210 487 1277 C562 1344 615 1409 646 1472 H763 Z"/><text x="39.24" y="0" font-size="36" letter-spacing="-0.9">5</text></g><g transform="translate(1208.90 649.80)"><text x="0.00" y="0" font-size="36" letter-spacing="-0.2">-</text><path transform="translate(11.79 0) scale(0.017578 -0.017578)" d="M763 0 H583 V1147 C540 1106 483 1065 413 1024 C343 983 280 952 225 932 V1106 C325 1153 412 1210 487 1277 C562 1344 615 1409 646 1472 H763 Z"/><text x="31.61" y="0" font-size="36" letter-spacing="-0.2">5</text></g></g>
<circle cx="435.7" cy="637.8" r="3.3" stroke="#1a1414" stroke-width="1.3" fill="none"/><circle cx="748.9" cy="557.8" r="3.3" stroke="#1a1414" stroke-width="1.3" fill="none"/><circle cx="1267.9" cy="541.0" r="3.3" stroke="#1a1414" stroke-width="1.3" fill="none"/><circle cx="1264.0" cy="626.5" r="3.3" stroke="#1a1414" stroke-width="1.3" fill="none"/><circle cx="1285.0" cy="812.8" r="3.3" stroke="#1a1414" stroke-width="1.3" fill="none"/>
</svg></body></html>
